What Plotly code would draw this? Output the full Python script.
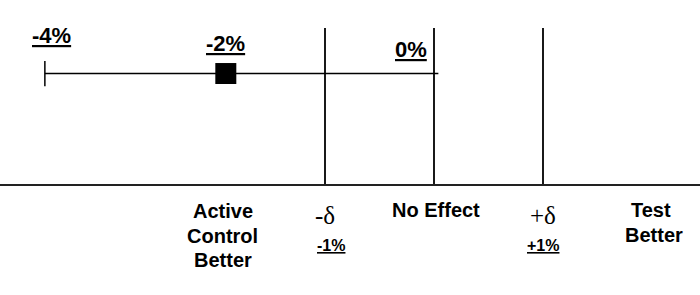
import plotly.graph_objects as go

# Schematic positions (axis units: margin delta = 1)
ci_low_pos = -3.57
point_pos = -1.91
ci_high_pos = 0.04
ci_labels = ["-4%", "-2%", "0%"]
row_y = 0.71

margin_pos = [-1, 0, 1]
margin_names = ["-\u03b4", "No Effect", "+\u03b4"]
margin_pct = ["-1%", "", "+1%"]

left_label = ["Active", "Control", "Better"]
right_label = ["Test", "Better"]

fig = go.Figure()

# CI line
fig.add_trace(go.Scatter(x=[ci_low_pos, ci_high_pos], y=[row_y, row_y],
                         mode="lines", line=dict(color="black", width=1.5),
                         hoverinfo="skip", showlegend=False))
# lower tick
fig.add_trace(go.Scatter(x=[ci_low_pos], y=[row_y], mode="markers",
                         marker=dict(symbol="line-ns", size=18,
                                     line=dict(color="black", width=1.5)),
                         hoverinfo="skip", showlegend=False))
# point estimate
fig.add_trace(go.Scatter(x=[point_pos], y=[row_y], mode="markers",
                         marker=dict(symbol="square", size=21, color="black"),
                         hoverinfo="skip", showlegend=False))

# vertical reference lines
for xv in margin_pos:
    fig.add_shape(type="line", xref="x", yref="y", x0=xv, x1=xv, y0=0, y1=1,
                  line=dict(color="black", width=1.8))
# horizontal axis line
fig.add_shape(type="line", xref="paper", yref="y", x0=0, x1=1, y0=0, y1=0,
              line=dict(color="#222222", width=2))

bold = dict(family="Liberation Sans, Arial", color="black")

def ann(text, x, ypix, size, xanchor="center", xshift=0, family=None):
    f = dict(bold)
    f["size"] = size
    if family:
        f["family"] = family
    fig.add_annotation(text=text, x=x, xref="x", y=(185 - ypix) / 157, yref="y",
                       xanchor=xanchor, yanchor="middle", showarrow=False,
                       font=f, xshift=xshift)

# CI labels
ann("<b><u>" + ci_labels[0] + "</u></b>", ci_low_pos, 35, 22, xshift=7)
ann("<b><u>" + ci_labels[1] + "</u></b>", point_pos, 43, 22)
ann("<b><u>" + ci_labels[2] + "</u></b>", ci_high_pos, 49, 22, xanchor="right", xshift=-9)

# bottom labels
for i, t in enumerate(left_label):
    ann("<b>" + t + "</b>", -1.94, 211 + i * 24.5, 20)
ann(margin_names[0], margin_pos[0], 215, 25, family="Liberation Serif, Times New Roman")
ann("<b><u>" + margin_pct[0] + "</u></b>", margin_pos[0], 245, 16, xshift=6)
ann("<b>" + margin_names[1] + "</b>", margin_pos[1], 210, 20, xshift=2)
ann(margin_names[2], margin_pos[2], 215, 25, family="Liberation Serif, Times New Roman")
ann("<b><u>" + margin_pct[2] + "</u></b>", margin_pos[2], 245, 16)
ann("<b>" + right_label[0] + "</b>", 1.99, 210, 20)
ann("<b>" + right_label[1] + "</b>", 2.02, 235, 20)

fig.update_layout(
    width=700, height=295, margin=dict(l=0, r=0, t=0, b=0),
    plot_bgcolor="white", paper_bgcolor="white",
    xaxis=dict(range=[-434 / 109, (700 - 434) / 109], visible=False, fixedrange=True),
    yaxis=dict(range=[(185 - 295) / 157, 185 / 157], visible=False, fixedrange=True),
    showlegend=False,
)

fig.write_html("out.html", config={"displayModeBar": False},
               post_script="document.body.style.margin='0px';document.body.style.overflow='hidden';")
